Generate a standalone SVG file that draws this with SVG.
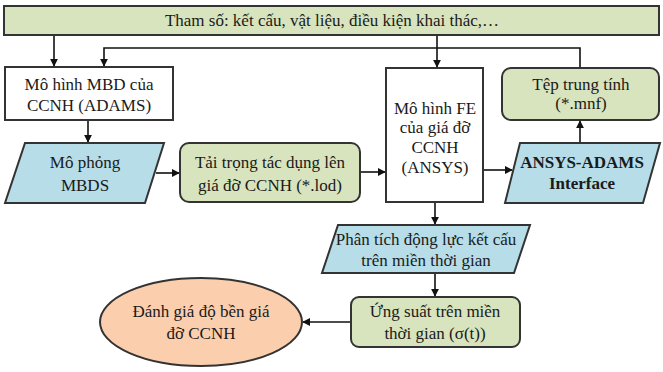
<svg xmlns="http://www.w3.org/2000/svg" width="663" height="372" viewBox="0 0 663 372">
<style>
text{font-family:"Liberation Serif","Times New Roman",serif;font-size:17px;fill:#1a1a1a;text-anchor:middle}
.b{font-weight:bold}
.box{stroke:#333;stroke-width:2}
.white{fill:#fff}
.green{fill:#d8e4bd}
.blue{fill:#b7dde8}
.peach{fill:#fbcfae}
.c{fill:none;stroke:#111;stroke-width:1.6}
</style>
<defs>
<marker id="ah" viewBox="0 0 10 10" refX="9" refY="5" markerWidth="8" markerHeight="8" markerUnits="userSpaceOnUse" orient="auto">
<path d="M0,0 L10,5 L0,10 z" fill="#111"/>
</marker>
</defs>
<rect width="663" height="372" fill="#fff"/>
<g id="connectors">
<path class="c" d="M54,35 V66" marker-end="url(#ah)"/>
<path class="c" d="M580,68 V48 H104 V66" marker-end="url(#ah)"/>
<path class="c" d="M437,35 V67" marker-end="url(#ah)"/>
<path class="c" d="M88,120 V142" marker-end="url(#ah)"/>
<path class="c" d="M156,173 H179" marker-end="url(#ah)"/>
<path class="c" d="M360,172 H385" marker-end="url(#ah)"/>
<path class="c" d="M483,170 H512" marker-end="url(#ah)"/>
<path class="c" d="M580,143 V121" marker-end="url(#ah)"/>
<path class="c" d="M435,202 V224" marker-end="url(#ah)"/>
<path class="c" d="M435,273 V296" marker-end="url(#ah)"/>
<path class="c" d="M350,322 H303" marker-end="url(#ah)"/>
</g>
<g id="params">
<rect class="box green" x="4" y="6" width="655" height="29"/>
<text x="332" y="26">Tham số: kết cấu, vật liệu, điều kiện khai thác,…</text>
</g>
<g id="mbd">
<rect class="box white" x="5" y="67" width="168" height="53"/>
<text x="89" y="90">Mô hình MBD của</text>
<text x="89" y="111">CCNH (ADAMS)</text>
</g>
<g id="mbds">
<polygon class="box blue" points="25,143 164,143 145,203 5,203"/>
<text x="85" y="168">Mô phỏng</text>
<text x="85" y="191">MBDS</text>
</g>
<g id="load">
<rect class="box green" x="180" y="143" width="180" height="59" rx="9"/>
<text x="270" y="168">Tải trọng tác dụng lên</text>
<text x="270" y="191">giá đỡ CCNH (*.lod)</text>
</g>
<g id="fe">
<rect class="box white" x="386" y="68" width="97" height="134"/>
<text x="435" y="114">Mô hình FE</text>
<text x="435" y="133">của giá đỡ</text>
<text x="435" y="153">CCNH</text>
<text x="435" y="173">(ANSYS)</text>
</g>
<g id="mnf">
<rect class="box green" x="502" y="68" width="157" height="52" rx="9"/>
<text x="581" y="90">Tệp trung tính</text>
<text x="581" y="109">(*.mnf)</text>
</g>
<g id="interface">
<polygon class="box blue" points="520,143 660,143 643,203 505,203"/>
<text class="b" x="582" y="168">ANSYS-ADAMS</text>
<text class="b" x="582" y="189">Interface</text>
</g>
<g id="analysis">
<polygon class="box blue" points="338,225 530,225 514,273 322,273"/>
<text x="426" y="245">Phân tích động lực kết cấu</text>
<text x="426" y="266">trên miền thời gian</text>
</g>
<g id="stress">
<rect class="box green" x="351" y="297" width="169" height="50" rx="8"/>
<text x="435" y="317">Ứng suất trên miền</text>
<text x="435" y="339">thời gian (σ(t))</text>
</g>
<g id="eval">
<ellipse class="box peach" cx="201" cy="322" rx="101" ry="44"/>
<text x="201" y="317">Đánh giá độ bền giá</text>
<text x="201" y="339">đỡ CCNH</text>
</g>
</svg>
